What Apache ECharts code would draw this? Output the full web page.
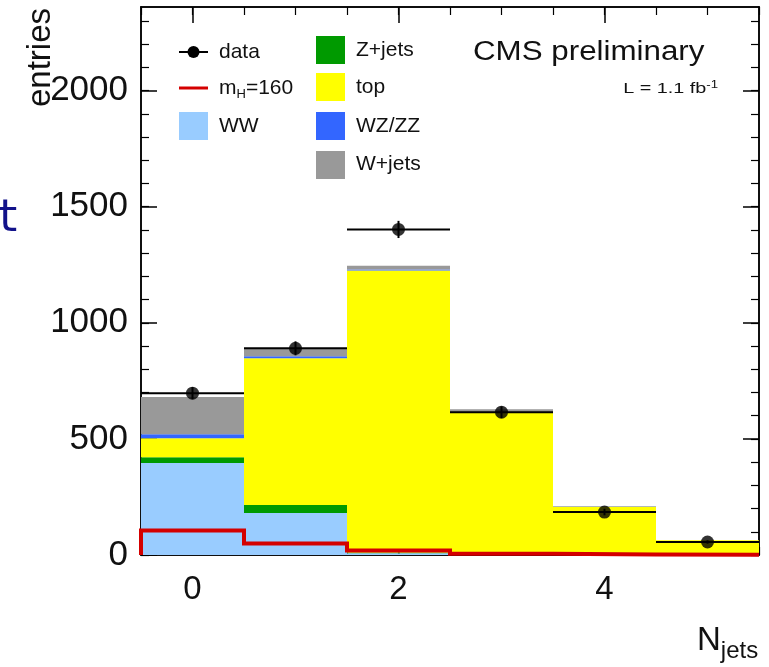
<!DOCTYPE html>
<html>
<head>
<meta charset="utf-8">
<script src="https://cdn.jsdelivr.net/npm/echarts@6/dist/echarts.min.js"></script>
<style>
  html, body { margin: 0; padding: 0; background: #ffffff; }
  #chart { width: 769px; height: 667px; }
</style>
</head>
<body>
<div id="chart"></div>
<script>
// Jet multiplicity bins
const bins = [0, 1, 2, 3, 4, 5];

// Stacked background expectations, bottom to top
const ww    = [396, 181, 8, 2, 1, 0];
const zjets = [25, 34, 3, 1, 0, 0];
const topq  = [82, 632, 1214, 610, 207, 63];
const wzzz  = [17, 9, 4, 2, 1, 0];
const wjets = [160, 34, 17, 13, 2, 1];

// Higgs signal, mH = 160
const signal = [105, 49, 19, 5, 2, 1];

// Observed data and statistical errors
const dataObs = [697, 890, 1402, 615, 185, 56];
const dataErr = [26, 30, 37, 25, 14, 7];

// Axis ticks
const xLabels = [0, 2, 4];
const xMinor = [-0.5, 0, 0.5, 1, 1.5, 2, 2.5, 3, 3.5, 4, 4.5, 5, 5.5];
const yLabels = [0, 500, 1000, 1500, 2000];
const yMinor = [0, 100, 200, 300, 400, 500, 600, 700, 800, 900, 1000, 1100, 1200, 1300,
                1400, 1500, 1600, 1700, 1800, 1900, 2000, 2100, 2200, 2300];

const X_MIN = -0.5, X_MAX = 5.5, Y_MAX = 2360;
const FONT = '"Liberation Sans", Arial, Helvetica, sans-serif';

const stackDefs = [
  { name: 'WW', values: ww, color: '#99ccff' },
  { name: 'Z+jets', values: zjets, color: '#009a00' },
  { name: 'top', values: topq, color: '#ffff00' },
  { name: 'WZ/ZZ', values: wzzz, color: '#3366ff' },
  { name: 'W+jets', values: wjets, color: '#999999' }
];

// Build cumulative stack rows [x, low, high]
const running = bins.map(() => 0);
const stackSeries = stackDefs.map(def => {
  const rows = bins.map((x, i) => {
    const lo = running[i];
    running[i] += def.values[i];
    return [x, lo, running[i]];
  });
  return {
    type: 'custom',
    name: def.name,
    xAxisIndex: 0,
    yAxisIndex: 0,
    clip: true,
    z: 2,
    data: rows,
    renderItem: function (params, api) {
      const x = api.value(0);
      const p0 = api.coord([x - 0.5, api.value(2)]);
      const p1 = api.coord([x + 0.5, api.value(1)]);
      return {
        type: 'rect',
        shape: { x: p0[0], y: p0[1], width: p1[0] - p0[0], height: p1[1] - p0[1] },
        style: { fill: def.color }
      };
    }
  };
});

// Signal step outline through bin edges
const signalLine = [[X_MIN, 0]];
bins.forEach((x, i) => {
  signalLine.push([x - 0.5, signal[i]]);
  signalLine.push([x + 0.5, signal[i]]);
});

const lineBlack = { show: true, onZero: false, lineStyle: { color: '#000', width: 1.5 } };

function xAxisDef(position, ticks, len, labels) {
  return {
    type: 'value', min: X_MIN, max: X_MAX, position: position,
    splitLine: { show: false },
    axisLine: lineBlack,
    axisTick: { show: true, inside: true, length: len, customValues: ticks,
                lineStyle: { color: '#000', width: len > 10 ? 1.5 : 1.2 } },
    axisLabel: labels
      ? { show: true, customValues: labels, fontSize: 33, color: '#111', fontFamily: FONT, margin: 18 }
      : { show: false }
  };
}

function yAxisDef(position, ticks, len, labels) {
  return {
    type: 'value', min: 0, max: Y_MAX, position: position,
    splitLine: { show: false },
    axisLine: lineBlack,
    axisTick: { show: true, inside: true, length: len, customValues: ticks,
                lineStyle: { color: '#000', width: len > 10 ? 1.5 : 1.2 } },
    axisLabel: labels
      ? { show: true, customValues: labels, fontSize: 35, color: '#111', fontFamily: FONT, margin: 13,
          formatter: v => String(v) }
      : { show: false }
  };
}

const option = {
  animation: false,
  backgroundColor: '#ffffff',
  grid: { left: 141, right: 10, top: 7, bottom: 112, containLabel: false },
  xAxis: [
    xAxisDef('bottom', xLabels, 16, xLabels),
    xAxisDef('bottom', xMinor, 8, null),
    xAxisDef('top', xLabels, 16, null),
    xAxisDef('top', xMinor, 8, null)
  ],
  yAxis: [
    yAxisDef('left', yLabels, 16, yLabels),
    yAxisDef('left', yMinor, 8, null),
    yAxisDef('right', yLabels, 16, null),
    yAxisDef('right', yMinor, 8, null)
  ],
  series: stackSeries.concat([
    {
      type: 'line',
      name: 'mH=160',
      xAxisIndex: 0,
      yAxisIndex: 0,
      data: signalLine,
      symbol: 'none',
      z: 4,
      lineStyle: { color: '#d40000', width: 4, join: 'miter', cap: 'butt' }
    },
    {
      type: 'custom',
      name: 'data errors',
      xAxisIndex: 0,
      yAxisIndex: 0,
      z: 5,
      data: bins.map((x, i) => [x, dataObs[i], dataErr[i]]),
      renderItem: function (params, api) {
        const x = api.value(0), y = api.value(1), e = api.value(2);
        const l = api.coord([x - 0.5, y]);
        const r = api.coord([x + 0.5, y]);
        const hi = api.coord([x, y + e]);
        const lo = api.coord([x, y - e]);
        return {
          type: 'group',
          children: [
            { type: 'line', shape: { x1: l[0], y1: l[1], x2: r[0], y2: r[1] }, style: { stroke: '#000', lineWidth: 2 } },
            { type: 'line', shape: { x1: hi[0], y1: hi[1], x2: lo[0], y2: lo[1] }, style: { stroke: '#000', lineWidth: 2 } }
          ]
        };
      }
    },
    {
      type: 'scatter',
      name: 'data',
      xAxisIndex: 0,
      yAxisIndex: 0,
      z: 6,
      symbol: 'circle',
      symbolSize: 13,
      itemStyle: { color: '#000' },
      data: bins.map((x, i) => [x, dataObs[i]])
    }
  ]),
  graphic: [
    // Legend, left column
    { type: 'line', shape: { x1: 179, y1: 52, x2: 208, y2: 52 }, style: { stroke: '#000', lineWidth: 2 }, z: 10 },
    { type: 'circle', shape: { cx: 193.5, cy: 52, r: 6 }, style: { fill: '#000' }, z: 10 },
    { type: 'text', x: 219, y: 52, style: { text: 'data', font: '21px ' + FONT, fill: '#111', textVerticalAlign: 'middle' }, z: 10 },
    { type: 'line', shape: { x1: 179, y1: 88, x2: 208, y2: 88 }, style: { stroke: '#d40000', lineWidth: 3 }, z: 10 },
    { type: 'text', x: 219, y: 88, z: 10,
      style: { text: '{m|m}{s|H}{m|=160}', textVerticalAlign: 'middle', fill: '#111',
        rich: { m: { fontSize: 21, fontFamily: FONT, fill: '#111' },
                s: { fontSize: 13, fontFamily: FONT, fill: '#111', padding: [12, 0, 0, 0] } } } },
    { type: 'rect', shape: { x: 179, y: 112, width: 29, height: 28 }, style: { fill: '#99ccff' }, z: 10 },
    { type: 'text', x: 219, y: 126, style: { text: 'WW', font: '21px ' + FONT, fill: '#111', textVerticalAlign: 'middle' }, z: 10 },
    // Legend, right column
    { type: 'rect', shape: { x: 316, y: 36, width: 29, height: 28 }, style: { fill: '#009a00' }, z: 10 },
    { type: 'text', x: 356, y: 50, style: { text: 'Z+jets', font: '21px ' + FONT, fill: '#111', textVerticalAlign: 'middle' }, z: 10 },
    { type: 'rect', shape: { x: 316, y: 73, width: 29, height: 28 }, style: { fill: '#ffff00' }, z: 10 },
    { type: 'text', x: 356, y: 87, style: { text: 'top', font: '21px ' + FONT, fill: '#111', textVerticalAlign: 'middle' }, z: 10 },
    { type: 'rect', shape: { x: 316, y: 112, width: 29, height: 28 }, style: { fill: '#3366ff' }, z: 10 },
    { type: 'text', x: 356, y: 126, style: { text: 'WZ/ZZ', font: '21px ' + FONT, fill: '#111', textVerticalAlign: 'middle' }, z: 10 },
    { type: 'rect', shape: { x: 316, y: 151, width: 29, height: 28 }, style: { fill: '#999999' }, z: 10 },
    { type: 'text', x: 356, y: 164, style: { text: 'W+jets', font: '21px ' + FONT, fill: '#111', textVerticalAlign: 'middle' }, z: 10 },
    // Labels
    { type: 'text', x: 473, y: 53, scaleX: 1.16, z: 10,
      style: { text: 'CMS preliminary', font: '27px ' + FONT, fill: '#111', textVerticalAlign: 'middle' } },
    { type: 'text', x: 718, y: 89, scaleX: 1.32, z: 10,
      style: { text: '{n|L = 1.1 fb}{p|-1}', textAlign: 'right', textVerticalAlign: 'middle',
        rich: { n: { fontSize: 15, fontFamily: FONT, fill: '#111' },
                p: { fontSize: 10, fontFamily: FONT, fill: '#111', padding: [0, 0, 8, 0] } } } },
    { type: 'text', x: 57, y: 8, rotation: Math.PI / 2, z: 10,
      style: { text: 'entries', font: '33px ' + FONT, fill: '#111', textAlign: 'right', textVerticalAlign: 'bottom' } },
    { type: 'text', x: 697, y: 641, z: 10,
      style: { text: '{n|N}{s|jets}', textVerticalAlign: 'middle',
        rich: { n: { fontSize: 33, fontFamily: FONT, fill: '#111' },
                s: { fontSize: 24, fontFamily: FONT, fill: '#111', padding: [20, 0, 0, 0] } } } },
    { type: 'text', x: -6, y: 220, z: 10,
      style: { text: 't', font: '44px "DejaVu Sans Mono", monospace', fill: '#12128a', textVerticalAlign: 'middle' } }
  ]
};

const chart = echarts.init(document.getElementById('chart'), null, { renderer: 'canvas' });
chart.setOption(option);
</script>
</body>
</html>
